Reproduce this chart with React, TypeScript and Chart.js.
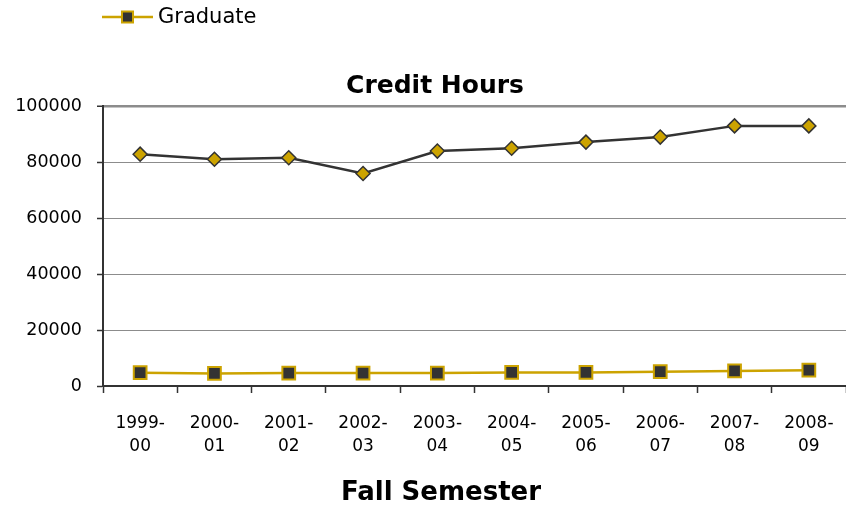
import React, { useEffect, useRef } from "react";
import { Chart, registerables } from "chart.js";

Chart.register(...registerables);

const categories: string[][] = [
  ["1999-", "00"], ["2000-", "01"], ["2001-", "02"], ["2002-", "03"], ["2003-", "04"],
  ["2004-", "05"], ["2005-", "06"], ["2006-", "07"], ["2007-", "08"], ["2008-", "09"],
];
const undergraduate: number[] = [82800, 81000, 81500, 75900, 83900, 84900, 87100, 88900, 92900, 92900];
const graduate: number[] = [4750, 4500, 4600, 4600, 4600, 4850, 4850, 5100, 5400, 5650];
const yTicks: number[] = [0, 20000, 40000, 60000, 80000, 100000];

const chartTitle = "Credit Hours";
const xTitle = "Fall Semester";
const legendLabel = "Graduate";

const GOLD = "#CCA300";
const DARK = "#333333";
const FONT = "'DejaVu Sans', Verdana, sans-serif";

const textPlugin = {
  id: "customText",
  afterDraw(chart: any) {
    const ctx = chart.ctx;
    ctx.save();
    // legend
    const ly = 17;
    ctx.strokeStyle = GOLD;
    ctx.lineWidth = 2.5;
    ctx.beginPath();
    ctx.moveTo(102, ly);
    ctx.lineTo(153, ly);
    ctx.stroke();
    ctx.fillStyle = DARK;
    ctx.fillRect(122, ly - 5.5, 11, 11);
    ctx.strokeStyle = GOLD;
    ctx.lineWidth = 2;
    ctx.strokeRect(122, ly - 5.5, 11, 11);
    ctx.fillStyle = "#000";
    ctx.font = `21px ${FONT}`;
    ctx.textBaseline = "middle";
    ctx.textAlign = "left";
    ctx.fillText(legendLabel, 158, ly + 1);
    // titles
    ctx.textAlign = "center";
    ctx.font = `bold 25px ${FONT}`;
    ctx.fillText(chartTitle, 435, 86);
    ctx.font = `bold 26px ${FONT}`;
    ctx.fillText(xTitle, 441, 493);
    ctx.restore();
  },
};

export default function App() {
  const ref = useRef<HTMLCanvasElement | null>(null);
  useEffect(() => {
    if (!ref.current) return;
    const chart = new Chart(ref.current, {
      type: "line",
      data: {
        labels: categories,
        datasets: [
          {
            label: "Undergraduate",
            data: undergraduate,
            borderColor: DARK,
            borderWidth: 2.5,
            backgroundColor: GOLD,
            pointStyle: "rectRot",
            pointRadius: 7,
            pointBorderWidth: 1.5,
            pointBorderColor: DARK,
            pointBackgroundColor: GOLD,
            tension: 0,
          },
          {
            label: legendLabel,
            data: graduate,
            borderColor: GOLD,
            borderWidth: 2.5,
            backgroundColor: DARK,
            pointStyle: "rect",
            pointRadius: 9,
            pointBorderWidth: 2,
            pointBorderColor: GOLD,
            pointBackgroundColor: DARK,
            tension: 0,
          },
        ],
      },
      options: {
        responsive: false,
        animation: false,
        layout: { autoPadding: false, padding: { top: 106, left: 0, right: 0, bottom: 0 } },
        plugins: {
          legend: { display: false },
          title: { display: false },
          tooltip: { enabled: false },
        },
        scales: {
          x: {
            type: "category",
            offset: true,
            grid: {
              offset: true,
              drawOnChartArea: false,
              drawTicks: true,
              tickLength: 7,
              tickColor: DARK,
              tickWidth: 1.5,
            },
            border: { color: DARK, width: 2 },
            ticks: {
              color: "#000",
              font: { family: FONT, size: 17, lineHeight: 1.3 },
              padding: 20,
              maxRotation: 0,
              autoSkip: false,
            },
            afterFit(scale: any) {
              scale.height = 120;
              scale.paddingLeft = 0;
              scale.paddingRight = 0;
            },
          },
          y: {
            min: 0,
            max: 100000,
            afterBuildTicks(scale: any) {
              scale.ticks = yTicks.map((v) => ({ value: v }));
            },
            grid: {
              color: "#8c8c8c",
              lineWidth: (c: any) => (c.tick && c.tick.value === 100000 ? 2.5 : 1),
              drawTicks: true,
              tickLength: 6,
              tickColor: DARK,
              tickWidth: 1.5,
            },
            border: { color: DARK, width: 2 },
            ticks: {
              color: "#000",
              font: { family: FONT, size: 17.5 },
              padding: 15,
              callback: (v: any) => String(v),
            },
            afterFit(scale: any) {
              scale.width = 103;
              scale.paddingTop = 0;
              scale.paddingBottom = 0;
            },
          },
        },
      },
      plugins: [textPlugin],
    } as any);
    return () => chart.destroy();
  }, []);
  return (
    <div style={{ position: "fixed", left: 0, top: 0, width: 846, height: 506, background: "#fff" }}>
      <canvas ref={ref} width={846} height={506} />
    </div>
  );
}
